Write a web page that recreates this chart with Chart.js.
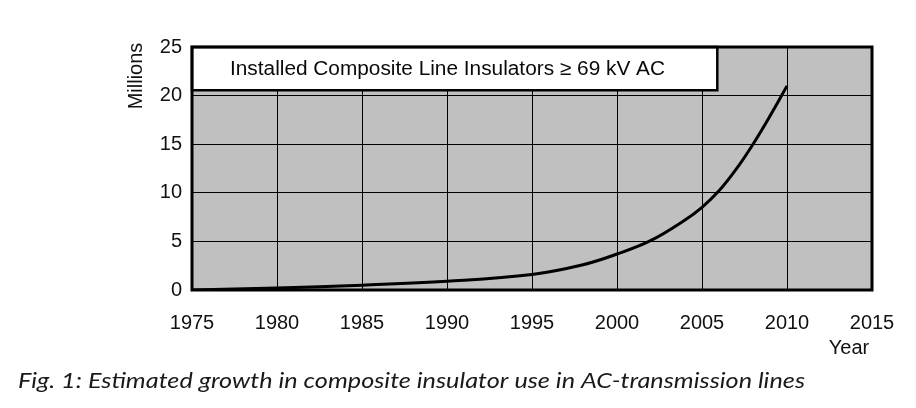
<!DOCTYPE html>
<html>
<head>
<meta charset="utf-8">
<script src="https://cdn.jsdelivr.net/npm/chart.js@4"></script>
<style>
  html, body { margin: 0; padding: 0; background: #fff; }
  #wrap { width: 916px; height: 408px; }
</style>
</head>
<body>
<div id="wrap"><canvas id="growthChart" width="916" height="408"></canvas></div>
<script>
// data
const years = [1975, 1980, 1985, 1990, 1995, 1998, 2000, 2002, 2004, 2005, 2006, 2007, 2008, 2009, 2010];
const millions = [0, 0.2, 0.5, 0.9, 1.6, 2.6, 3.7, 5.1, 7.2, 8.5, 10.2, 12.4, 15.0, 17.9, 21.0];
const yearTicks = [1975, 1980, 1985, 1990, 1995, 2000, 2005, 2010, 2015];
const millionTicks = [0, 5, 10, 15, 20, 25];

const boxTitle = 'Installed Composite Line Insulators \u2265 69 kV AC';
const caption = 'Fig. 1: Estimated growth in composite insulator use in AC-transmission lines';

const points = years.map((y, i) => ({ x: y, y: millions[i] }));

// draw text squeezed/stretched to a given width
function fitText(ctx, text, x, y, width) {
    const w = ctx.measureText(text).width;
    ctx.save();
    ctx.translate(x, y);
    ctx.scale(width / w, 1);
    ctx.fillText(text, 0, 0);
    ctx.restore();
}

const frame = {
    id: 'frame',
    beforeDraw(chart) {
        const { ctx, chartArea: a } = chart;
        ctx.save();
        ctx.fillStyle = '#c0c0c0';
        ctx.fillRect(a.left, a.top, a.right - a.left, a.bottom - a.top);
        ctx.restore();
    },
    afterDatasetsDraw(chart) {
        const { ctx, chartArea: a, scales } = chart;
        ctx.save();
        // label box in the top left corner
        const bx1 = a.left, by1 = a.top;
        const bx2 = scales.x.getPixelForValue(2005.9);
        const by2 = scales.y.getPixelForValue(20.55);
        ctx.fillStyle = '#fff';
        ctx.fillRect(bx1, by1, bx2 - bx1, by2 - by1);
        ctx.lineWidth = 2.5;
        ctx.strokeStyle = '#000';
        ctx.strokeRect(bx1, by1, bx2 - bx1, by2 - by1);
        ctx.fillStyle = '#0a0a0a';
        ctx.font = '20px "Liberation Sans", Arial, sans-serif';
        ctx.textAlign = 'left';
        ctx.textBaseline = 'middle';
        fitText(ctx, boxTitle, 230, (by1 + by2) / 2 + 1, 435);

        // outer frame
        ctx.lineWidth = 3;
        ctx.strokeRect(a.left, a.top, a.right - a.left, a.bottom - a.top);
        ctx.restore();
    },
    afterDraw(chart) {
        const { ctx } = chart;
        ctx.save();
        ctx.fillStyle = '#111';
        ctx.font = '20px "Liberation Sans", Arial, sans-serif';
        ctx.textBaseline = 'middle';
        ctx.textAlign = 'center';
        ctx.fillText('Year', 849, 348);

        ctx.translate(136, 76);
        ctx.rotate(-Math.PI / 2);
        ctx.fillText('Millions', 0, 0);
        ctx.restore();

        ctx.save();
        ctx.fillStyle = '#1a1a1a';
        ctx.font = 'italic 21px Lato, "Open Sans", sans-serif';
        ctx.textBaseline = 'alphabetic';
        ctx.textAlign = 'left';
        fitText(ctx, caption, 18, 388, 787);
        ctx.restore();
    }
};

new Chart(document.getElementById('growthChart'), {
    type: 'line',
    data: {
        datasets: [{
            data: points,
            borderColor: '#000',
            borderWidth: 3,
            pointRadius: 0,
            tension: 0.4,
            fill: false
        }]
    },
    options: {
        responsive: false,
        animation: false,
        layout: { padding: { top: 47, right: 44, left: 0, bottom: 0 } },
        plugins: { legend: { display: false }, tooltip: { enabled: false } },
        scales: {
            x: {
                type: 'linear',
                min: 1975,
                max: 2015,
                afterBuildTicks: s => { s.ticks = yearTicks.map(v => ({ value: v })); },
                afterFit: s => { s.height = 118; },
                grid: { color: '#000', lineWidth: 1, drawTicks: false },
                border: { display: false },
                ticks: {
                    padding: 21,
                    color: '#111',
                    maxRotation: 0,
                    font: { family: '"Liberation Sans", Arial, sans-serif', size: 20 },
                    callback: v => String(v)
                }
            },
            y: {
                min: 0,
                max: 25,
                afterBuildTicks: s => { s.ticks = millionTicks.map(v => ({ value: v })); },
                afterFit: s => { s.width = 192; },
                grid: { color: '#000', lineWidth: 1, drawTicks: false },
                border: { display: false },
                ticks: {
                    padding: 10,
                    color: '#111',
                    font: { family: '"Liberation Sans", Arial, sans-serif', size: 20 }
                }
            }
        }
    },
    plugins: [frame]
});
</script>
</body>
</html>
